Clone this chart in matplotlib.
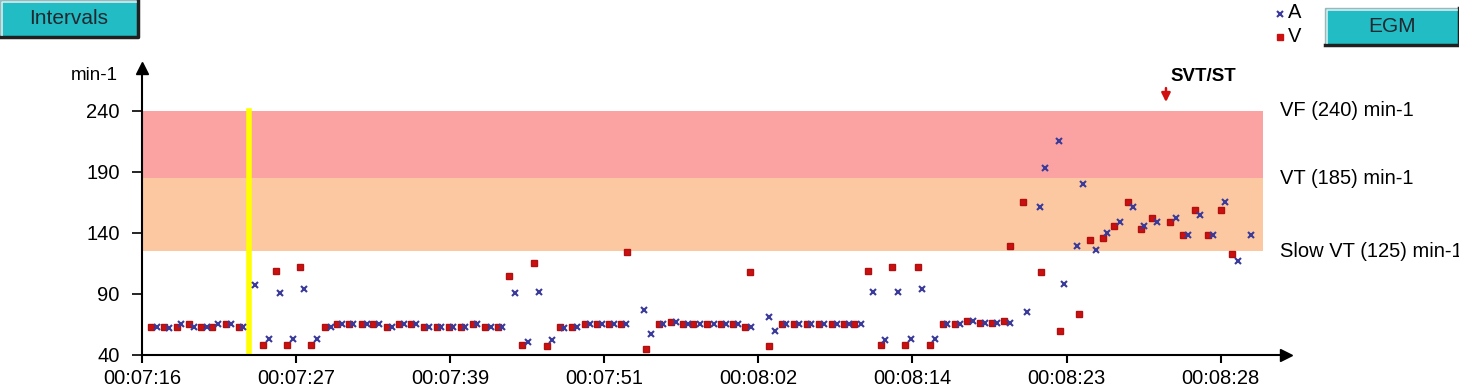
import matplotlib.pyplot as plt
from matplotlib.patches import Rectangle

plt.rcParams['font.family'] = ['Liberation Sans', 'DejaVu Sans']

# x positions are in tick units (tick k = k-th time label), values in min-1
tick_labels = ["00:07:16", "00:07:27", "00:07:39", "00:07:51",
               "00:08:02", "00:08:14", "00:08:23", "00:08:28"]
y_ticks = [40, 90, 140, 190, 240]

# zones: name, lower, upper
zone_names = ["VF (240) min-1", "VT (185) min-1", "Slow VT (125) min-1"]
zone_limits = [240, 185, 125]
zone_colors = ["#fba3a3", "#fbc8a1"]

v_x = [0.056, 0.143, 0.225, 0.303, 0.383, 0.452, 0.545, 0.628, 0.783, 0.868,
       0.941, 1.025, 1.099, 1.190, 1.267, 1.343, 1.428, 1.497, 1.588, 1.670,
       1.746, 1.830, 1.912, 1.990, 2.068, 2.146, 2.228, 2.312, 2.384, 2.468,
       2.542, 2.626, 2.711, 2.789, 2.873, 2.953, 3.029, 3.110, 3.147, 3.269,
       3.353, 3.431, 3.513, 3.578, 3.665, 3.755, 3.833, 3.913, 3.947, 4.069,
       4.153, 4.231, 4.313, 4.395, 4.476, 4.557, 4.620, 4.711, 4.798, 4.869,
       4.953, 5.038, 5.112, 5.196, 5.278, 5.356, 5.440, 5.516, 5.594, 5.633,
       5.715, 5.836, 5.957, 6.080, 6.152, 6.236, 6.310, 6.396, 6.481, 6.552,
       6.673, 6.757, 6.833, 6.916, 7.000, 7.075]
v_y = [63, 63, 63, 65, 63, 63, 65, 63, 48, 109,
       48, 112, 48, 63, 65, 65, 65, 65, 63, 65,
       65, 63, 63, 63, 63, 65, 63, 63, 105, 48,
       115, 47, 63, 63, 65, 65, 65, 65, 124, 45,
       65, 67, 65, 65, 65, 65, 65, 63, 108, 47,
       65, 65, 65, 65, 65, 65, 65, 109, 48, 112,
       48, 112, 48, 65, 65, 68, 66, 66, 68, 129,
       165, 108, 60, 74, 134, 136, 146, 165, 143, 152,
       149, 138, 159, 138, 159, 123]

a_x = [0.095, 0.177, 0.255, 0.337, 0.420, 0.491, 0.579, 0.655, 0.735, 0.822,
       0.896, 0.980, 1.051, 1.136, 1.225, 1.296, 1.371, 1.458, 1.536, 1.622,
       1.698, 1.778, 1.862, 1.938, 2.020, 2.098, 2.176, 2.263, 2.336, 2.422,
       2.507, 2.578, 2.663, 2.738, 2.821, 2.907, 2.983, 3.063, 3.141, 3.256,
       3.305, 3.383, 3.463, 3.543, 3.621, 3.712, 3.790, 3.870, 3.952, 4.069,
       4.108, 4.179, 4.262, 4.343, 4.426, 4.508, 4.586, 4.664, 4.746, 4.822,
       4.906, 4.988, 5.062, 5.148, 5.226, 5.308, 5.391, 5.473, 5.547, 5.633,
       5.741, 5.827, 5.862, 5.949, 5.983, 6.068, 6.104, 6.189, 6.262, 6.347,
       6.431, 6.504, 6.589, 6.710, 6.786, 6.868, 6.952, 7.026, 7.110, 7.194]
a_y = [63, 62, 65, 63, 63, 65, 65, 63, 97, 53,
       91, 53, 94, 53, 63, 65, 65, 65, 65, 63,
       65, 65, 63, 63, 63, 63, 65, 63, 63, 91,
       51, 92, 52, 62, 63, 65, 65, 65, 65, 77,
       57, 65, 67, 65, 65, 65, 65, 65, 63, 71,
       60, 65, 65, 65, 65, 65, 65, 65, 92, 52,
       92, 53, 94, 53, 65, 65, 68, 66, 66, 66,
       75, 161, 193, 215, 98, 129, 180, 126, 140, 149,
       161, 146, 149, 152, 138, 155, 138, 165, 117, 138]

cursor_x = 0.696
svt_x = 6.645
band_end = 7.275

W, H = 1459, 388
fig = plt.figure(figsize=(W / 100, H / 100), dpi=100)


def fx(px):
    return px / W


def fy(py):
    return 1 - py / H


ax = fig.add_axes([fx(142), fy(355), fx(1280 - 142), (355 - 68) / H])
ax.set_xlim(0, 7.385)
ax.set_ylim(40, 275.2)

ax.fill_between([0, band_end], zone_limits[1], zone_limits[0], color=zone_colors[0], lw=0)
ax.fill_between([0, band_end], zone_limits[2], zone_limits[1], color=zone_colors[1], lw=0)
ax.plot([cursor_x, cursor_x], [40, 240], color="#ffff00", lw=4)

ax.plot(v_x, v_y, "s", ms=4.8, color="#cc1010", mec="#b01010", ls="none")
ax.plot(a_x, a_y, "x", ms=3.8, mew=1.5, color="#3a3a9a", ls="none")

for spine in ["top", "right"]:
    ax.spines[spine].set_visible(False)
for spine in ["left", "bottom"]:
    ax.spines[spine].set_linewidth(1.5)
ax.plot(1.005, 0, ">k", ms=9, transform=ax.transAxes, clip_on=False)
ax.plot(0, 1.0, "^k", ms=9, transform=ax.transAxes, clip_on=False)

ax.set_xticks(range(len(tick_labels)))
ax.set_xticklabels(tick_labels, fontsize=14.5)
ax.set_yticks(y_ticks)
ax.set_yticklabels([str(v) for v in y_ticks], fontsize=14.5)
ax.tick_params(axis="x", length=6, width=1.5, pad=4)
ax.tick_params(axis="y", length=7, width=1.2, pad=9)

for name, lim in zip(zone_names, zone_limits):
    ax.text(7.385, lim, name, fontsize=14.5, va="center", ha="left", clip_on=False)

ax.text(svt_x + 0.03, 268, "SVT/ST", fontsize=13.5, fontweight="bold", ha="left", va="center")
ax.annotate("", xy=(svt_x, 245), xytext=(svt_x, 261),
            arrowprops=dict(arrowstyle="-|>", color="#d01010", lw=1.8, mutation_scale=13))

fig.text(fx(118), fy(76), "min-1", fontsize=13.5, ha="right", va="center")


def button(x0, y0, x1, y1, label):
    fig.patches.append(Rectangle((fx(x0), fy(y1)), fx(x1 - x0), (y1 - y0) / H,
                                 transform=fig.transFigure, facecolor="#22bcc4",
                                 edgecolor="#9ab8ba", lw=1))
    fig.add_artist(plt.Line2D([fx(x0), fx(x1), fx(x1)], [fy(y1), fy(y1), fy(y0)],
                              transform=fig.transFigure, color="#202020", lw=2.5))
    fig.add_artist(plt.Line2D([fx(x0 + 2), fx(x0 + 2), fx(x1 - 2)],
                              [fy(y1 - 2), fy(y0 + 2), fy(y0 + 2)],
                              transform=fig.transFigure, color="#d8eeef", lw=1.2))
    fig.text(fx((x0 + x1) / 2), fy((y0 + y1) / 2), label, fontsize=15,
             ha="center", va="center", color="#202830")


button(0, 0, 138, 37, "Intervals")
button(1325, 8, 1459, 45, "EGM")

# legend
fig.add_artist(plt.Line2D([fx(1280)], [fy(14)], transform=fig.transFigure,
                          marker="x", ms=3.8, mew=1.5, color="#3a3a9a", ls="none"))
fig.add_artist(plt.Line2D([fx(1280)], [fy(37)], transform=fig.transFigure,
                          marker="s", ms=4.8, color="#cc1010", ls="none"))
fig.text(fx(1288), fy(12), "A", fontsize=14.5, ha="left", va="center")
fig.text(fx(1288), fy(37), "V", fontsize=14.5, ha="left", va="center")

fig.savefig("out.png", dpi=100)
